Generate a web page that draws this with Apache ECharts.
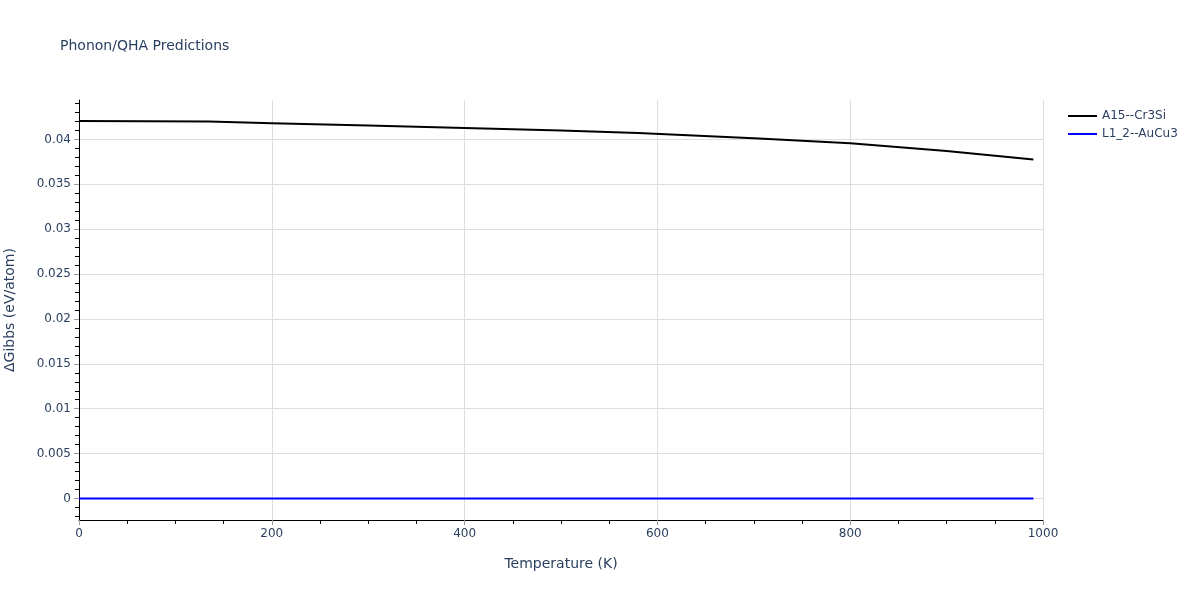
<!DOCTYPE html>
<html>
<head>
<meta charset="utf-8">
<script src="https://cdn.jsdelivr.net/npm/echarts@6/dist/echarts.min.js"></script>
<style>
  html, body { margin: 0; padding: 0; background: #fff; }
  #chart { width: 1200px; height: 600px; }
</style>
</head>
<body>
<div id="chart"></div>
<script>
// temperatures (K) and ΔGibbs (eV/atom)
var tempA15 = [0, 135, 200, 300, 400, 500, 580, 700, 800, 900, 990];
var gibbsA15 = [0.04207, 0.04200, 0.04182, 0.04155, 0.04129, 0.04100, 0.04072, 0.04015, 0.03958, 0.03872, 0.03778];
var tempL12 = [0, 990];
var gibbsL12 = [0, 0];
var seriesNames = ['A15--Cr3Si', 'L1_2--AuCu3'];
var yTicks = [0, 0.005, 0.01, 0.015, 0.02, 0.025, 0.03, 0.035, 0.04];
var yMinorTicks = [-0.002, -0.001, 0.001, 0.002, 0.003, 0.004, 0.006, 0.007, 0.008, 0.009,
  0.011, 0.012, 0.013, 0.014, 0.016, 0.017, 0.018, 0.019, 0.021, 0.022, 0.023, 0.024,
  0.026, 0.027, 0.028, 0.029, 0.031, 0.032, 0.033, 0.034, 0.036, 0.037, 0.038, 0.039,
  0.041, 0.042, 0.043, 0.044];

var txt = '#2a3f5f';
var font = 'DejaVu Sans, Verdana, sans-serif';

function pairs(xs, ys) {
  return xs.map(function (x, i) { return [x, ys[i]]; });
}

var chart = echarts.init(document.getElementById('chart'));
chart.setOption({
  animation: false,
  title: {
    text: 'Phonon/QHA Predictions',
    left: 55, top: 34,
    textStyle: { color: txt, fontFamily: font, fontSize: 14, fontWeight: 'normal' }
  },
  legend: {
    orient: 'vertical',
    left: 1063, top: 105,
    itemWidth: 29, itemHeight: 2, itemGap: 6,
    icon: 'rect',
    textStyle: { color: txt, fontFamily: font, fontSize: 12 },
    data: seriesNames
  },
  grid: { left: 79, right: 157, top: 100, bottom: 80, containLabel: false, outerBoundsMode: 'none' },
  xAxis: {
    type: 'value',
    min: 0, max: 1000, interval: 200,
    name: 'Temperature (K)',
    nameLocation: 'middle', nameGap: 37,
    nameTextStyle: { color: txt, fontFamily: font, fontSize: 14 },
    axisLine: { show: true, onZero: false, lineStyle: { color: '#000', width: 1 } },
    axisTick: { show: true, length: 5, lineStyle: { color: '#999' } },
    minorTick: { show: true, splitNumber: 4, length: 4, lineStyle: { color: '#000' } },
    axisLabel: {
      color: txt, fontFamily: font, fontSize: 12, margin: 8,
      formatter: function (v) { return String(v); }
    },
    splitLine: { show: true, lineStyle: { color: '#dedede', width: 1 } }
  },
  yAxis: [{
    type: 'value',
    min: -0.0024, max: 0.0444,
    name: 'ΔGibbs (eV/atom)',
    nameLocation: 'middle', nameGap: 62,
    nameTextStyle: { color: txt, fontFamily: font, fontSize: 14 },
    axisLine: { show: true, onZero: false, lineStyle: { color: '#000', width: 1 } },
    axisTick: { show: true, length: 5, customValues: yTicks, lineStyle: { color: '#999' } },
    axisLabel: {
      color: txt, fontFamily: font, fontSize: 12, margin: 8,
      customValues: yTicks,
      formatter: function (v) { return String(+v.toFixed(4)); }
    },
    splitLine: { show: true, lineStyle: { color: '#dedede', width: 1 } }
  }, {
    // minor ticks only, on top of the first axis
    type: 'value',
    position: 'left',
    min: -0.0024, max: 0.0444,
    axisLine: { show: false },
    axisTick: { show: true, length: 4, customValues: yMinorTicks, lineStyle: { color: '#000' } },
    axisLabel: { show: false, customValues: yMinorTicks },
    splitLine: { show: false }
  }],
  series: [{
    name: seriesNames[0],
    type: 'line',
    data: pairs(tempA15, gibbsA15),
    showSymbol: false,
    lineStyle: { color: '#000', width: 2 },
    itemStyle: { color: '#000' },
    z: 3
  }, {
    name: seriesNames[1],
    type: 'line',
    data: pairs(tempL12, gibbsL12),
    showSymbol: false,
    lineStyle: { color: '#0000ff', width: 2 },
    itemStyle: { color: '#0000ff' },
    z: 4
  }]
});
</script>
</body>
</html>
